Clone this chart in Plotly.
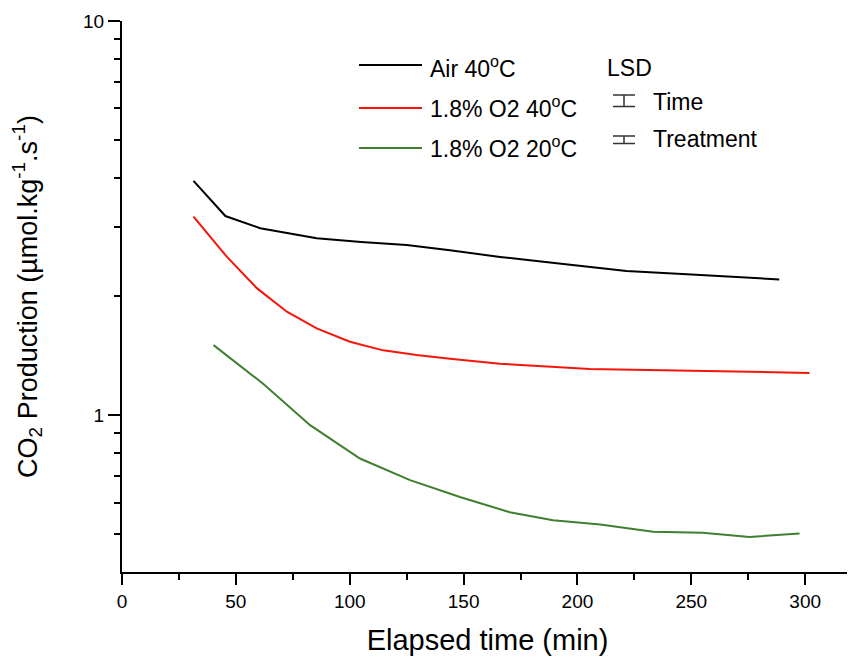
import plotly.graph_objects as go

# Data
air40_x = [31.4, 45.4, 60.7, 73, 85.5, 105, 125, 144, 166, 185, 205.4, 221.5, 246, 268, 288.6]
air40_y = [3.93, 3.20, 2.98, 2.89, 2.81, 2.75, 2.70, 2.62, 2.52, 2.45, 2.38, 2.32, 2.28, 2.24, 2.21]

o2_40_x = [31.4, 46.1, 59.2, 72.4, 85.5, 100.1, 114.7, 129.4, 144, 166, 205.4, 239, 256.6, 301.9]
o2_40_y = [3.19, 2.52, 2.10, 1.83, 1.66, 1.535, 1.46, 1.42, 1.39, 1.35, 1.31, 1.30, 1.29, 1.28]

o2_20_x = [40.2, 62.1, 82.6, 104.5, 126.5, 148.4, 170.3, 189.3, 210, 233.2, 255, 275.6, 297.5]
o2_20_y = [1.505, 1.20, 0.943, 0.776, 0.684, 0.62, 0.567, 0.541, 0.528, 0.506, 0.503, 0.491, 0.501]

series_names = ["Air 40<sup>o</sup>C", "1.8% O2 40<sup>o</sup>C", "1.8% O2 20<sup>o</sup>C"]
series_colors = ["#000000", "#f5160a", "#3f7f2f"]

x_ticks = [0, 50, 100, 150, 200, 250, 300]
y_ticks = [1, 10]
y_minor = [0.5, 0.6, 0.7, 0.8, 0.9, 2, 3, 4, 5, 6, 7, 8, 9]

FONT = "Liberation Sans, Arial, sans-serif"

fig = go.Figure()
for xs, ys, name, col in zip([air40_x, o2_40_x, o2_20_x], [air40_y, o2_40_y, o2_20_y],
                             series_names, series_colors):
    fig.add_trace(go.Scatter(x=xs, y=ys, mode="lines", name=name,
                             line=dict(color=col, width=2), showlegend=False))

# figure sized to compensate the 8px page margin
OFF = 8
W, H = 847, 652
L, R, T, B = 114, 2, 13, 88
pw, ph = W - L - R, H - T - B
def px(xp):
    return (xp - OFF - L) / pw
def py(yp):
    return (H + OFF - B - yp) / ph

# custom legend
leg_line_y = [65, 108, 148]
leg_text_y = [67, 107, 147]
for ly, ty, name, col in zip(leg_line_y, leg_text_y, series_names, series_colors):
    fig.add_shape(type="line", xref="paper", yref="paper",
                  x0=px(359), x1=px(422), y0=py(ly), y1=py(ly),
                  line=dict(color=col, width=2))
    fig.add_annotation(xref="paper", yref="paper", x=px(428), y=py(ty),
                       text=name, showarrow=False, xanchor="left", yanchor="middle",
                       font=dict(family=FONT, size=23, color="black"))

fig.add_annotation(xref="paper", yref="paper", x=px(605), y=py(68),
                   text="LSD", showarrow=False, xanchor="left", yanchor="middle",
                   font=dict(family=FONT, size=23, color="black"))
for y0, y1, ty, label in [(95, 106.5, 102, "Time"), (136, 143.5, 139, "Treatment")]:
    cx = 624
    fig.add_shape(type="line", xref="paper", yref="paper",
                  x0=px(cx), x1=px(cx), y0=py(y0), y1=py(y1),
                  line=dict(color="#333333", width=1.5))
    for e in (y0, y1):
        fig.add_shape(type="line", xref="paper", yref="paper",
                      x0=px(613), x1=px(635), y0=py(e), y1=py(e),
                      line=dict(color="#333333", width=1.5))
    fig.add_annotation(xref="paper", yref="paper", x=px(651), y=py(ty),
                       text=label, showarrow=False, xanchor="left", yanchor="middle",
                       font=dict(family=FONT, size=23, color="black"))

fig.update_layout(
    width=W, height=H,
    margin=dict(l=L, r=R, t=T, b=B),
    paper_bgcolor="white", plot_bgcolor="white",
    font=dict(family=FONT, color="black"),
    showlegend=False,
)
fig.update_xaxes(
    range=[0, 321], showgrid=False, zeroline=False,
    showline=True, linecolor="black", linewidth=2,
    tickvals=x_ticks, ticks="outside", ticklen=11, tickwidth=2, tickcolor="black",
    tickfont=dict(size=19),
    minor=dict(dtick=25, tick0=0, ticks="outside", ticklen=6, tickwidth=2, tickcolor="black"),
    title=dict(text="Elapsed time (min)", font=dict(size=29), standoff=19),
)
fig.update_yaxes(
    type="log", range=[-0.398, 1], showgrid=False, zeroline=False,
    showline=True, linecolor="black", linewidth=2,
    tickvals=y_ticks, ticktext=["1", "10"], ticks="outside", ticklen=12, tickwidth=2,
    tickcolor="black", tickfont=dict(size=19),
    minor=dict(tickvals=y_minor, ticks="outside", ticklen=6, tickwidth=2, tickcolor="black"),
    title=dict(text="CO<sub>2</sub> Production (µmol.kg<sup>-1</sup>.s<sup>-1</sup>)",
               font=dict(size=27), standoff=38),
)

fig.write_html("out.html")
